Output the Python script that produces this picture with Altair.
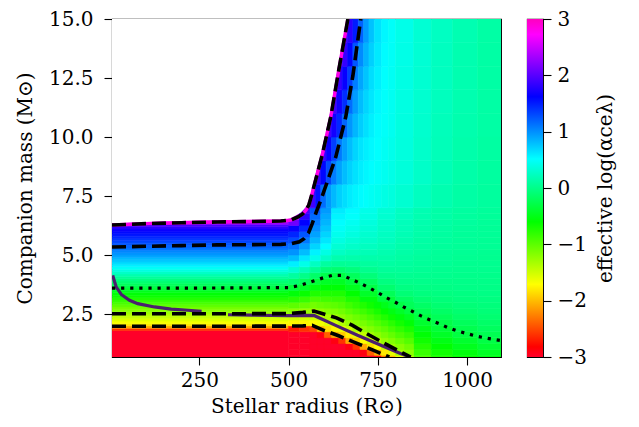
import altair as alt
import pandas as pd

# ---------------- colour map (gist_rainbow, vmin=-3, vmax=3) ----------------
cmap_domain = [-3.0, -2.82, -1.71, -0.6, 0.516, 1.62, 2.724, 3.0]
cmap_colors = ["#ff0029", "#ff0000", "#ffff00", "#00ff00", "#00ffff",
               "#0000ff", "#ff00ff", "#ff00bf"]
cbar_ticks = [-3, -2, -1, 0, 1, 2, 3]

x_ticks = [250, 500, 750, 1000]
y_ticks = [2.5, 5.0, 7.5, 10.0, 12.5, 15.0]
x_range = [5, 1095]
y_range = [0.68, 15.0]
N = None

# ---------------- field block 1: left part (uniform in radius) ----------------
left_xedges = [5, 500]
left_yedges = [0.5, 1.8, 1.9, 2.0, 2.1, 2.2, 2.3, 2.4, 2.5, 2.6, 2.7, 2.8, 2.9,
               3.0, 3.1, 3.2, 3.3, 3.4, 3.5, 3.6, 3.7, 3.8, 3.9, 4.0, 4.1, 4.2,
               4.3, 4.4, 4.5, 4.6, 4.7, 4.8, 4.9, 5.0, 5.1, 5.2, 5.3, 5.4, 5.5,
               5.6, 5.7, 5.8, 5.9, 6.0, 6.1, 6.2, 6.3, 6.4, 6.5]
left_vals = [-3.0, -2.6, -2.1, -1.8, -1.68, -1.58, -1.48, -1.4, -1.3, -1.2,
             -1.12, -1.02, -0.92, -0.84, -0.75, -0.65, -0.57, -0.48, -0.38,
             -0.28, -0.2, -0.12, -0.03, 0.06, 0.16, 0.27, 0.38, 0.48, 0.58,
             0.66, 0.74, 0.82, 0.9, 0.97, 1.04, 1.1, 1.17, 1.24, 1.31, 1.38,
             1.45, 1.52, 1.58, 1.66, 1.8, 1.95, 2.3, 2.7]

# ---------------- field block 2: right part, M 0.5-7 (column by column) ----------------
mid_xedges = [500, 530, 560, 590, 620, 660, 700, 750, 800, 850, 900, 960, 1030, 1100]
mid_yedges = [0.5, 0.75, 1.0, 1.25, 1.5, 1.75, 2.0, 2.25, 2.5, 2.75, 3.0,
              3.25, 3.5, 3.75, 4.0, 4.25, 4.5, 4.75, 5.0, 5.25, 5.5, 5.75,
              6.0, 6.25, 6.5, 6.75, 7.0]
mid_515 = [-3, -3, -3, -3, -3, -2.7, -1.75, -1.5, -1.22, -1.0, -0.78, -0.56, -0.34,
           -0.12, 0.1, 0.32, 0.58, 0.8, 0.98, 1.12, 1.3, 1.46, 1.65, 2.1, 2.5, N]
mid_545 = [-3, -3, -3, -3, -3, -2.6, -1.75, -1.52, -1.26, -1.05, -0.84, -0.63, -0.42,
           -0.21, 0.0, 0.2, 0.42, 0.62, 0.8, 0.95, 1.1, 1.25, 1.45, 1.62, 1.8, 1.9]
mid_575 = [-3, -3, -3, -3, -3, -2.4, -1.72, -1.5, -1.3, -1.11, -0.92, -0.73, -0.54,
           -0.35, -0.15, 0.05, 0.25, 0.42, 0.57, 0.7, 0.82, 0.92, 1.0, 1.08, 1.16, 1.25]
mid_605 = [-3, -3, -3, -3, -2.6, -1.95, -1.6, -1.33, -1.18, -1.03, -0.88, -0.73, -0.58,
           -0.43, -0.27, -0.08, 0.1, 0.27, 0.4, 0.52, 0.62, 0.7, 0.77, 0.83, 0.89, 0.95]
mid_640 = [-3, -3, -3, -2.9, -2.0, -1.72, -1.45, -1.26, -1.12, -0.99, -0.85, -0.72, -0.58,
           -0.45, -0.31, -0.12, 0.05, 0.16, 0.26, 0.33, 0.39, 0.44, 0.48, 0.52, 0.56, 0.6]
mid_680 = [-3, -3, -2.8, -1.95, -1.62, -1.4, -1.25, -1.12, -0.99, -0.86, -0.73, -0.6, -0.47,
           -0.34, -0.2, -0.06, 0.06, 0.15, 0.22, 0.28, 0.33, 0.38, 0.42, 0.46, 0.5, 0.53]
mid_725 = [-3, -2.4, -1.85, -1.55, -1.3, -1.17, -1.04, -0.91, -0.79, -0.67, -0.54, -0.42,
           -0.3, -0.18, -0.07, 0.02, 0.09, 0.15, 0.2, 0.24, 0.28, 0.31, 0.34, 0.37, 0.4, 0.42]
mid_775 = [-2.3, -1.8, -1.32, -1.18, -1.06, -0.94, -0.82, -0.7, -0.58, -0.46, -0.34, -0.22,
           -0.12, -0.04, 0.02, 0.07, 0.11, 0.14, 0.17, 0.2, 0.23, 0.25, 0.27, 0.29, 0.31, 0.33]
mid_825 = [-1.5, -1.25, -1.1, -0.97, -0.85, -0.73, -0.61, -0.5, -0.38, -0.27, -0.17, -0.09,
           -0.03, 0.01, 0.04, 0.07, 0.09, 0.11, 0.13, 0.15, 0.17, 0.19, 0.21, 0.22, 0.24, 0.25]
mid_875 = [-0.95, -0.85, -0.76, -0.67, -0.58, -0.49, -0.4, -0.32, -0.23, -0.16, -0.1, -0.05,
           -0.02, 0.01, 0.03, 0.05, 0.07, 0.08, 0.1, 0.11, 0.12, 0.14, 0.15, 0.16, 0.17, 0.18]
mid_930 = [-0.75, -0.67, -0.59, -0.51, -0.43, -0.36, -0.29, -0.22, -0.16, -0.11, -0.07, -0.04,
           -0.02, 0.0, 0.02, 0.03, 0.05, 0.06, 0.07, 0.08, 0.09, 0.1, 0.11, 0.12, 0.13, 0.13]
mid_995 = [-0.62, -0.55, -0.47, -0.4, -0.32, -0.26, -0.2, -0.15, -0.11, -0.08, -0.05, -0.03,
           -0.01, 0.0, 0.01, 0.02, 0.03, 0.04, 0.05, 0.06, 0.07, 0.07, 0.08, 0.09, 0.09, 0.1]
mid_1065 = [-0.52, -0.44, -0.37, -0.3, -0.24, -0.19, -0.15, -0.11, -0.08, -0.06, -0.04, -0.02,
            -0.01, 0.0, 0.01, 0.02, 0.03, 0.03, 0.04, 0.05, 0.05, 0.06, 0.06, 0.07, 0.07, 0.08]
mid_cols = [mid_515, mid_545, mid_575, mid_605, mid_640, mid_680, mid_725,
            mid_775, mid_825, mid_875, mid_930, mid_995, mid_1065]

# ---------------- field block 3: lower-right wedge, finer (column by column) ----------------
low_xedges = [560, 580, 600, 620, 640, 660, 680, 700, 720, 740, 760, 780, 800, 825, 850]
low_yedges = [0.5, 0.75, 1.0, 1.25, 1.5, 1.75, 2.0, 2.25, 2.5, 2.75, 3.0]
low_570 = [-3, -3, -3, -3, -3, -2.5, -1.72, -1.5, -1.3, -1.1]
low_590 = [-3, -3, -3, -3, -2.9, -2.0, -1.66, -1.42, -1.23, -1.06]
low_610 = [-3, -3, -3, -3, -2.4, -1.85, -1.58, -1.34, -1.18, -1.03]
low_630 = [-3, -3, -3, -2.9, -2.1, -1.75, -1.5, -1.29, -1.15, -1.0]
low_650 = [-3, -3, -3, -2.6, -1.95, -1.65, -1.38, -1.22, -1.09, -0.96]
low_670 = [-3, -3, -2.9, -2.1, -1.78, -1.5, -1.28, -1.14, -1.01, -0.88]
low_690 = [-3, -3, -2.6, -1.92, -1.6, -1.33, -1.2, -1.07, -0.94, -0.81]
low_710 = [-3, -2.9, -2.1, -1.7, -1.45, -1.25, -1.12, -1.0, -0.87, -0.74]
low_730 = [-3, -2.4, -1.85, -1.55, -1.3, -1.17, -1.04, -0.92, -0.79, -0.66]
low_750 = [-2.9, -2.05, -1.7, -1.4, -1.21, -1.08, -0.96, -0.83, -0.7, -0.57]
low_770 = [-2.3, -1.8, -1.45, -1.25, -1.12, -1.0, -0.87, -0.74, -0.61, -0.49]
low_790 = [-2.0, -1.6, -1.29, -1.16, -1.03, -0.9, -0.78, -0.65, -0.52, -0.39]
low_812 = [-1.6, -1.31, -1.19, -1.06, -0.93, -0.81, -0.68, -0.55, -0.43, -0.3]
low_837 = [-1.35, -1.22, -1.09, -0.96, -0.84, -0.71, -0.58, -0.46, -0.33, -0.22]
low_cols = [low_570, low_590, low_610, low_630, low_650, low_670, low_690,
            low_710, low_730, low_750, low_770, low_790, low_812, low_837]

# ---------------- field block 4: upper right, M 7-15 (row by row) ----------------
up_xedges = [560, 575, 590, 605, 620, 635, 650, 665, 680, 695, 710, 725, 740,
             760, 780, 800, 850, 900, 960, 1030, 1100]
up_yedges = [7.0, 8.0, 9.0, 10.0, 11.0, 12.0, 13.0, 14.0, 15.0]
up_7 = [1.9, 1.55, 1.15, 0.95, 0.82, 0.72, 0.66, 0.6, 0.56, 0.53, 0.5, 0.47, 0.44,
        0.4, 0.37, 0.32, 0.24, 0.17, 0.12, 0.09]
up_8 = [1.9, 1.85, 1.6, 1.3, 1.08, 0.92, 0.8, 0.71, 0.64, 0.59, 0.55, 0.52, 0.49,
        0.45, 0.41, 0.36, 0.28, 0.2, 0.14, 0.1]
up_9 = [N, N, 1.9, 1.65, 1.35, 1.1, 0.93, 0.8, 0.7, 0.63, 0.58, 0.54, 0.51,
        0.47, 0.43, 0.37, 0.29, 0.21, 0.15, 0.11]
up_10 = [N, N, N, 1.9, 1.7, 1.45, 1.18, 0.97, 0.83, 0.73, 0.65, 0.58, 0.53,
         0.49, 0.45, 0.38, 0.3, 0.22, 0.16, 0.12]
up_11 = [N, N, N, N, 1.9, 1.7, 1.42, 1.15, 0.95, 0.8, 0.7, 0.62, 0.55,
         0.5, 0.46, 0.39, 0.31, 0.23, 0.17, 0.12]
up_12 = [N, N, N, N, 1.9, 1.85, 1.65, 1.35, 1.08, 0.9, 0.77, 0.66, 0.58,
         0.51, 0.47, 0.4, 0.32, 0.24, 0.17, 0.12]
up_13 = [N, N, N, N, N, 1.9, 1.85, 1.6, 1.25, 1.02, 0.85, 0.72, 0.61,
         0.53, 0.48, 0.41, 0.33, 0.24, 0.17, 0.12]
up_14 = [N, N, N, N, N, N, 1.9, 1.8, 1.5, 1.2, 0.95, 0.78, 0.64,
         0.55, 0.49, 0.42, 0.33, 0.25, 0.18, 0.12]
up_rows = [up_7, up_8, up_9, up_10, up_11, up_12, up_13, up_14]

# ---------------- contour / boundary lines ----------------
mask_x = [5, 100, 200, 300, 400, 478, 504, 520, 534, 545, 554, 560, 573, 592, 615, 637, 663]
mask_y = [6.34, 6.40, 6.44, 6.47, 6.49, 6.51, 6.55, 6.67, 6.80, 6.97, 7.18, 7.48, 8.28, 9.38, 10.93, 12.88, 15.0]

outer_x = [5, 100, 200, 300, 400, 478, 506, 524, 538, 548, 556, 562, 576, 595, 618, 640, 666]
outer_y = [6.27, 6.33, 6.37, 6.40, 6.42, 6.44, 6.48, 6.60, 6.72, 6.89, 7.10, 7.40, 8.20, 9.30, 10.85, 12.80, 15.0]

inner_x = [5, 100, 200, 300, 400, 478, 506, 530, 543, 556, 566, 578, 590, 613, 632, 660, 680, 702]
inner_y = [5.34, 5.37, 5.40, 5.43, 5.44, 5.45, 5.48, 5.56, 5.69, 5.95, 6.33, 6.85, 7.32, 8.31, 9.15, 10.85, 12.6, 15.0]

d3_x = [5, 250, 500, 540, 571, 634, 679, 727, 779, 819, 842]
d3_y = [2.51, 2.51, 2.52, 2.57, 2.63, 2.34, 2.02, 1.60, 1.17, 0.85, 0.68]

d4_x = [5, 250, 500, 540, 566, 600, 640, 690, 735, 760, 782]
d4_y = [1.98, 1.98, 1.99, 2.00, 2.02, 1.80, 1.58, 1.27, 0.98, 0.82, 0.68]

dot_x = [5, 250, 500, 534, 570, 600, 623, 651, 676, 700, 726, 749, 772, 798,
         822, 847, 871, 896, 922, 947, 974, 1000, 1028, 1054, 1082, 1095]
dot_y = [3.60, 3.60, 3.62, 3.72, 3.90, 4.05, 4.14, 4.14, 3.97, 3.81, 3.61,
         3.42, 3.21, 3.01, 2.80, 2.61, 2.42, 2.25, 2.09, 1.92, 1.78, 1.67,
         1.56, 1.48, 1.41, 1.38]

p1_x = [7, 12, 17, 31, 54, 77, 124, 171, 218, 256]
p1_y = [4.14, 3.88, 3.64, 3.33, 3.08, 2.94, 2.80, 2.71, 2.66, 2.61]
p2_x = [330, 400, 500, 571, 630, 693, 760, 815, 840]
p2_y = [2.47, 2.45, 2.43, 2.44, 2.03, 1.60, 1.17, 0.82, 0.68]

# ---------------- build tables ----------------
cells = []


def add_cols(xedges, yedges, cols):
    for j, col in enumerate(cols):
        for i, v in enumerate(col):
            if v is not None:
                cells.append(dict(x=xedges[j], x2=xedges[j + 1],
                                  y=yedges[i], y2=yedges[i + 1], v=v))


def add_rows(xedges, yedges, rows):
    for i, row in enumerate(rows):
        for j, v in enumerate(row):
            if v is not None:
                cells.append(dict(x=xedges[j], x2=xedges[j + 1],
                                  y=yedges[i], y2=yedges[i + 1], v=v))


add_cols(left_xedges, left_yedges, [left_vals])
add_cols(mid_xedges, mid_yedges, mid_cols)
add_cols(low_xedges, low_yedges, low_cols)
add_rows(up_xedges, up_yedges, up_rows)
heat_df = pd.DataFrame(cells)


def line_df(xs, ys):
    return pd.DataFrame({"x": xs, "y": ys})


FONT = "DejaVu Serif"
W, H = 389, 338

xscale = alt.Scale(domain=x_range, nice=False, zero=False)
yscale = alt.Scale(domain=y_range, nice=False, zero=False)
cscale = alt.Scale(domain=cmap_domain, range=cmap_colors, clamp=True, interpolate="rgb")

X = alt.X("x:Q", scale=xscale, title="Stellar radius (R⊙)",
          axis=alt.Axis(values=x_ticks, format="d", titlePadding=6, labelPadding=5))
Y = alt.Y("y:Q", scale=yscale, title="Companion mass (M⊙)",
          axis=alt.Axis(values=y_ticks, format=".1f", titlePadding=13, labelPadding=11))

heat = alt.Chart(heat_df).mark_rect(clip=True, strokeWidth=0.6).encode(
    x=X, x2="x2:Q", y=Y, y2="y2:Q",
    color=alt.Color("v:Q", scale=cscale, legend=None),
    stroke=alt.Stroke("v:Q", scale=cscale, legend=None),
)

mask = alt.Chart(line_df(mask_x, mask_y)).mark_area(color="white", clip=True).encode(
    x=X, y=Y, y2=alt.Y2(datum=15.0))

magenta = alt.Chart(line_df(outer_x, outer_y)).mark_line(
    color="#ff00e6", strokeWidth=3.4, clip=True).encode(x=X, y=Y)

dash_style = dict(color="black", strokeWidth=3.6, strokeDash=[14, 6], clip=True)
outer = alt.Chart(line_df(outer_x, outer_y)).mark_line(**dash_style).encode(x=X, y=Y)
inner = alt.Chart(line_df(inner_x, inner_y)).mark_line(**dash_style).encode(x=X, y=Y)
d3 = alt.Chart(line_df(d3_x, d3_y)).mark_line(**dash_style).encode(x=X, y=Y)
d4 = alt.Chart(line_df(d4_x, d4_y)).mark_line(**dash_style).encode(x=X, y=Y)
dotted = alt.Chart(line_df(dot_x, dot_y)).mark_line(
    color="black", strokeWidth=3.2, strokeDash=[3.2, 5.9], clip=True).encode(x=X, y=Y)

purple_style = dict(color="#4b1f6f", strokeWidth=3.2, clip=True)
p1 = alt.Chart(line_df(p1_x, p1_y)).mark_line(**purple_style).encode(x=X, y=Y)
p2 = alt.Chart(line_df(p2_x, p2_y)).mark_line(**purple_style).encode(x=X, y=Y)

main = alt.layer(heat, mask, magenta, p1, p2, outer, inner, d3, d4, dotted).properties(
    width=W, height=H)

# ---------------- colour bar ----------------
span = cmap_domain[-1] - cmap_domain[0]
grad = alt.LinearGradient(
    gradient="linear",
    stops=[alt.GradientStop(color=c, offset=(d - cmap_domain[0]) / span)
           for d, c in zip(cmap_domain, cmap_colors)],
    x1=0, x2=0, y1=1, y2=0)
cbar_df = pd.DataFrame({"lo": [cmap_domain[0]], "hi": [cmap_domain[-1]]})
cbar = alt.Chart(cbar_df).mark_rect(fill=grad).encode(
    x=alt.value(0), x2=alt.value(16),
    y=alt.Y("lo:Q", scale=alt.Scale(domain=[cmap_domain[0], cmap_domain[-1]], nice=False, zero=False),
            axis=alt.Axis(orient="right", values=cbar_ticks, format="d",
                          title="effective log(αceλ)", titleAngle=270,
                          titleBaseline="top", titlePadding=9, labelPadding=6)),
    y2="hi:Q",
).properties(width=16, height=H)

chart = alt.hconcat(main, cbar, spacing=24).properties(
    padding={"left": 6, "top": 0, "right": 0, "bottom": 5}
).configure(
    background="white"
).configure_view(
    stroke="black", strokeWidth=1.1
).configure_axis(
    labelFont=FONT, labelFontSize=20, labelColor="black",
    titleFont=FONT, titleFontSize=20, titleFontWeight="normal", titleColor="black",
    tickColor="black", tickSize=8, tickWidth=1.1,
    domain=False, grid=False,
)

chart.save("out.html", embed_options={"renderer": "svg", "actions": False})
